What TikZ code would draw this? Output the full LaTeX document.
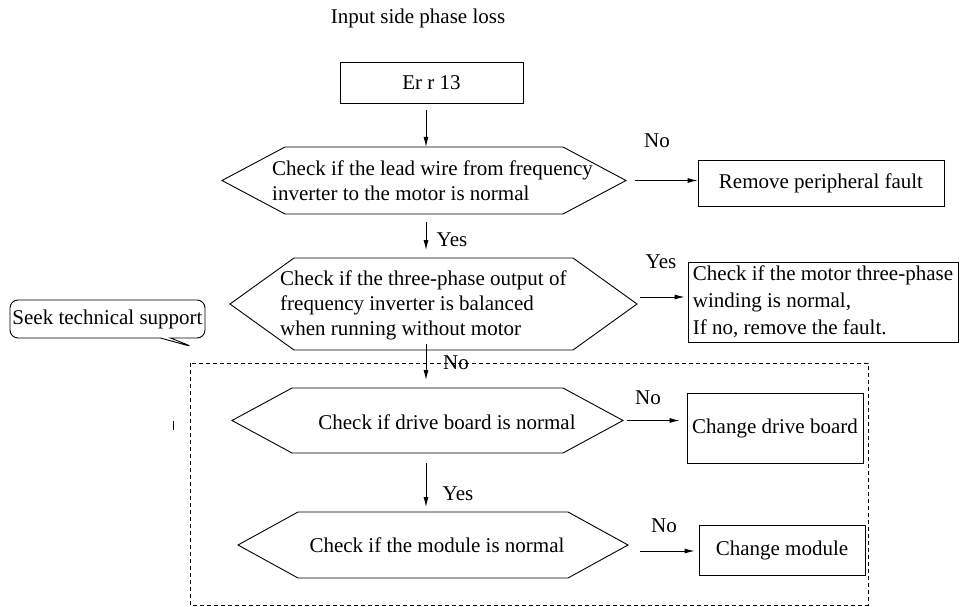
\documentclass[tikz,border=0pt]{standalone}
\usepackage{fontspec}
\setmainfont{Liberation Serif}
\usetikzlibrary{arrows.meta,positioning,calc,shapes.callouts}

\tikzset{
  box/.style={draw,line width=0.9pt,inner sep=4pt},
  hexcore/.style={inner sep=0pt,outer sep=0pt},
  hextext/.style={inner sep=0pt,align=left},
  lbl/.style={inner sep=0pt},
  arr/.style={-{Latex[length=10pt,width=5pt]},line width=0.9pt},
}
% outline of a decision node: #1 node, #2 depth of the side points
\newcommand{\hexframe}[2]{%
  \draw[line width=0.9pt] ($(#1.west)+(-#2,0)$) -- (#1.north west) -- (#1.north east)
    -- ($(#1.east)+(#2,0)$) -- (#1.south east) -- (#1.south west) -- cycle;
  \coordinate (#1 left) at ($(#1.west)+(-#2,0)$);
  \coordinate (#1 right) at ($(#1.east)+(#2,0)$);}

\begin{document}
\begin{tikzpicture}[x=1pt,y=-1pt,font=\fontsize{21}{25}\selectfont]
  \useasboundingbox (0,0) rectangle (969,607);

  \node[lbl] (title) at (418,18) {Input side phase loss};
  \node[box,minimum width=183pt,minimum height=41pt] (err) at (431.5,82.5) {Er r 13};

  % decisions
  \node[hexcore,minimum width=278pt,minimum height=67pt] (check1) at (424,180.5) {};
  \hexframe{check1}{63}
  \node[hextext,anchor=west] (check1 text) at (272,181)
    {Check if the lead wire from frequency\\inverter to the motor is normal};

  \node[hexcore,minimum width=279pt,minimum height=92pt] (check2) at (433.5,304) {};
  \hexframe{check2}{64}
  \node[hextext,anchor=west] (check2 text) at (280,305)
    {Check if the three-phase output of\\frequency inverter is balanced\\when running without motor};

  \node[hexcore,minimum width=271pt,minimum height=65pt] (check3) at (427.5,420.5) {};
  \hexframe{check3}{60}
  \node[hextext] (check3 text) at (447,422) {Check if drive board is normal};

  \node[hexcore,minimum width=270pt,minimum height=66pt] (check4) at (433,545) {};
  \hexframe{check4}{60}
  \node[hextext] (check4 text) at (437,545) {Check if the module is normal};

  % results
  \node[box,minimum width=246pt,minimum height=46pt] (fault) at (821,183) {Remove peripheral fault};
  \node[box,minimum width=270pt,minimum height=76pt,align=left,
        font=\fontsize{21}{27}\selectfont] (motor) at (823,302)
    {Check if the motor three-phase\\winding is normal,\\If no, remove the fault.};
  \node[box,minimum width=176pt,minimum height=70pt] (drive) at (775,428) {Change drive board};
  \node[box,minimum width=166pt,minimum height=50pt] (module) at (782,550) {Change module};

  \node[draw,line width=0.9pt,rectangle callout,rounded corners=8pt,
        minimum width=195pt,minimum height=38pt,inner sep=2pt,
        callout absolute pointer={(193,347)},callout pointer width=10pt]
        (support) at (107.5,319) {Seek technical support};

  % group of board checks
  \draw[dashed,dash pattern=on 4pt off 3pt,line width=0.9pt] (190,363) rectangle (868,605);
  \draw[line width=1pt] (173,421) -- (173,430);

  % connectors
  \draw[arr] ($(err.south)+(-5.5,7)$) -- ($(err.south |- check1.north)+(-5.5,0)$);
  \draw[arr] ($(check1.south)+(2,8)$) -- ($(check1.south |- check2.north)+(2,-8)$);
  \draw[arr] ($(check2.south)+(-7.5,-6)$) -- ($(check2.south |- check3.north)+(-7.5,-8)$);
  \draw[arr] ($(check3.south)+(-1.5,10)$) -- ($(check3.south |- check4.north)+(-1.5,-5)$);

  \draw[arr] ($(check1 right)+(9,0)$) -- (check1 right -| fault.west);
  \draw[arr] ($(check2 right)+(3,-7)$) -- ($(check2 right -| motor.west)+(-3,-7)$);
  \draw[arr] ($(check3 right)+(4,0)$) -- ($(check3 right -| drive.west)+(-7,0)$);
  \draw[arr] ($(check4 right)+(12,6)$) -- ($(check4 right -| module.west)+(-4,6)$);

  \node[lbl] (no1) at (657,141) {No};
  \node[lbl] (yes1) at (452,240) {Yes};
  \node[lbl] (yes2) at (661,262) {Yes};
  \node[lbl] (no2) at (456,363) {No};
  \node[lbl] (no3) at (648,398) {No};
  \node[lbl] (yes3) at (458,494) {Yes};
  \node[lbl] (no4) at (664,526) {No};
\end{tikzpicture}
\end{document}
